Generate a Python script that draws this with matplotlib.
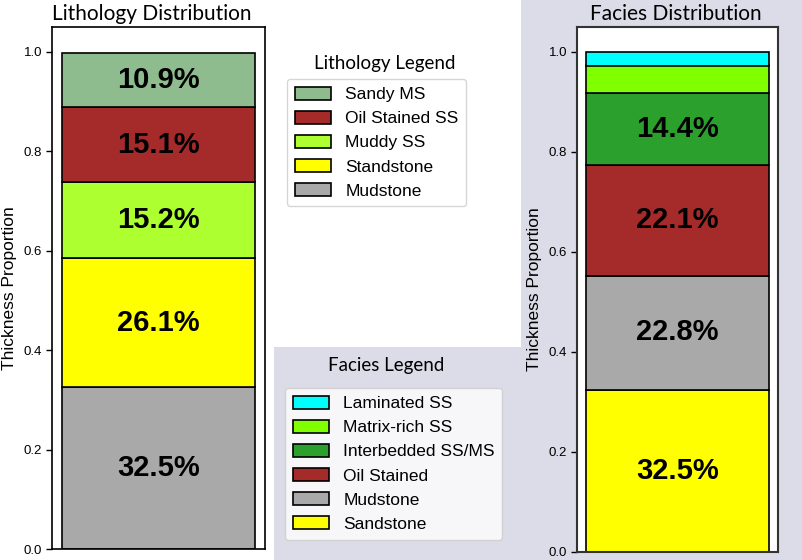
import numpy as np
import matplotlib as mpl
import matplotlib.pyplot as plt
from matplotlib.patches import Rectangle

mpl.use("Agg")

# lithology stack, bottom to top
litho_names = ["Mudstone", "Standstone", "Muddy SS", "Oil Stained SS", "Sandy MS"]
litho_values = [0.325, 0.261, 0.152, 0.151, 0.109]
litho_colors = ["#a9a9a9", "#ffff00", "#adff2f", "#a52a2a", "#8fbc8f"]

# facies stack, bottom to top
facies_names = ["Sandstone", "Mudstone", "Oil Stained", "Interbedded SS/MS",
                "Matrix-rich SS", "Laminated SS"]
facies_values = [0.325, 0.228, 0.221, 0.144, 0.055, 0.027]
facies_colors = ["#ffff00", "#a9a9a9", "#a52a2a", "#2ca02c", "#7fff00", "#00ffff"]

W, H = 803, 560
PANEL = "#dcdce8"
SANS = ["Liberation Sans", "DejaVu Sans"]
TITLE_FONT = ["Lato", "DejaVu Sans"]


def fx(px):
    return px / W


def fy(py):
    return 1 - py / H


def stacked_bar(ax, names, values, colors):
    bottom = 0.0
    bars = []
    for name, val, col in zip(names, values, colors):
        b = ax.bar(0, val, width=0.8, bottom=bottom, color=col,
                   edgecolor="black", linewidth=1.2, label=name)
        bars.append(b[0])
        if val >= 0.1:
            ax.text(0, bottom + val / 2, f"{val * 100:.1f}%", ha="center",
                    va="center", fontsize=21, fontweight="bold", family=SANS)
        bottom += val
    ticks = np.arange(0, 1.01, 0.2)
    ax.set_xlim(-0.44, 0.44)
    ax.set_ylim(0, 1.05)
    ax.set_xticks([])
    ax.set_yticks(ticks)
    ax.set_yticklabels([f"{t:.1f}" for t in ticks], family=SANS, fontsize=9.5)
    ax.tick_params(axis="y", length=4, width=1, pad=3)
    ax.set_ylabel("Thickness Proportion", family=SANS, fontsize=12.5, labelpad=5)
    return bars


fig = plt.figure(figsize=(W / 100, H / 100), dpi=100)

# lavender panels behind the facies parts
fig.patches.append(Rectangle((fx(521), 0), 1 - fx(521), 1, transform=fig.transFigure,
                             facecolor=PANEL, edgecolor="none", zorder=-1))
fig.patches.append(Rectangle((fx(274), 0), fx(521) - fx(274), fy(347),
                             transform=fig.transFigure, facecolor=PANEL,
                             edgecolor="none", zorder=-1))

ax1 = fig.add_axes([fx(52), fy(549), fx(265) - fx(52), (549 - 27) / H])
ax2 = fig.add_axes([fx(577), fy(552), fx(778) - fx(577), (552 - 27) / H])
for sp in ax1.spines.values():
    sp.set_linewidth(1.2)
for sp in ax2.spines.values():
    sp.set_linewidth(1.5)
    sp.set_edgecolor("#333333")

litho_bars = stacked_bar(ax1, litho_names, litho_values, litho_colors)
facies_bars = stacked_bar(ax2, facies_names, facies_values, facies_colors)

fig.text(fx(152), fy(14), "Lithology Distribution", ha="center", va="center",
         fontsize=15, family=TITLE_FONT)
fig.text(fx(676), fy(14), "Facies Distribution", ha="center", va="center",
         fontsize=15, family=TITLE_FONT)

fig.text(fx(385), fy(63), "Lithology Legend", ha="center", va="center",
         fontsize=13.5, family=TITLE_FONT)
fig.text(fx(386), fy(365), "Facies Legend", ha="center", va="center",
         fontsize=13.5, family=TITLE_FONT)

leg_kw = dict(loc="upper left", borderaxespad=0, fancybox=True, framealpha=0.8,
              edgecolor="#cccccc", prop={"family": SANS, "size": 12.5},
              handlelength=2.1, handleheight=0.75, labelspacing=0.5,
              handletextpad=0.8, borderpad=0.45)
fig.legend(litho_bars[::-1], litho_names[::-1],
           bbox_to_anchor=(fx(287), fy(79)), **leg_kw)
fig.legend(facies_bars[::-1], facies_names[::-1],
           bbox_to_anchor=(fx(285), fy(388)), **leg_kw)

fig.savefig("out.png", dpi=100)
